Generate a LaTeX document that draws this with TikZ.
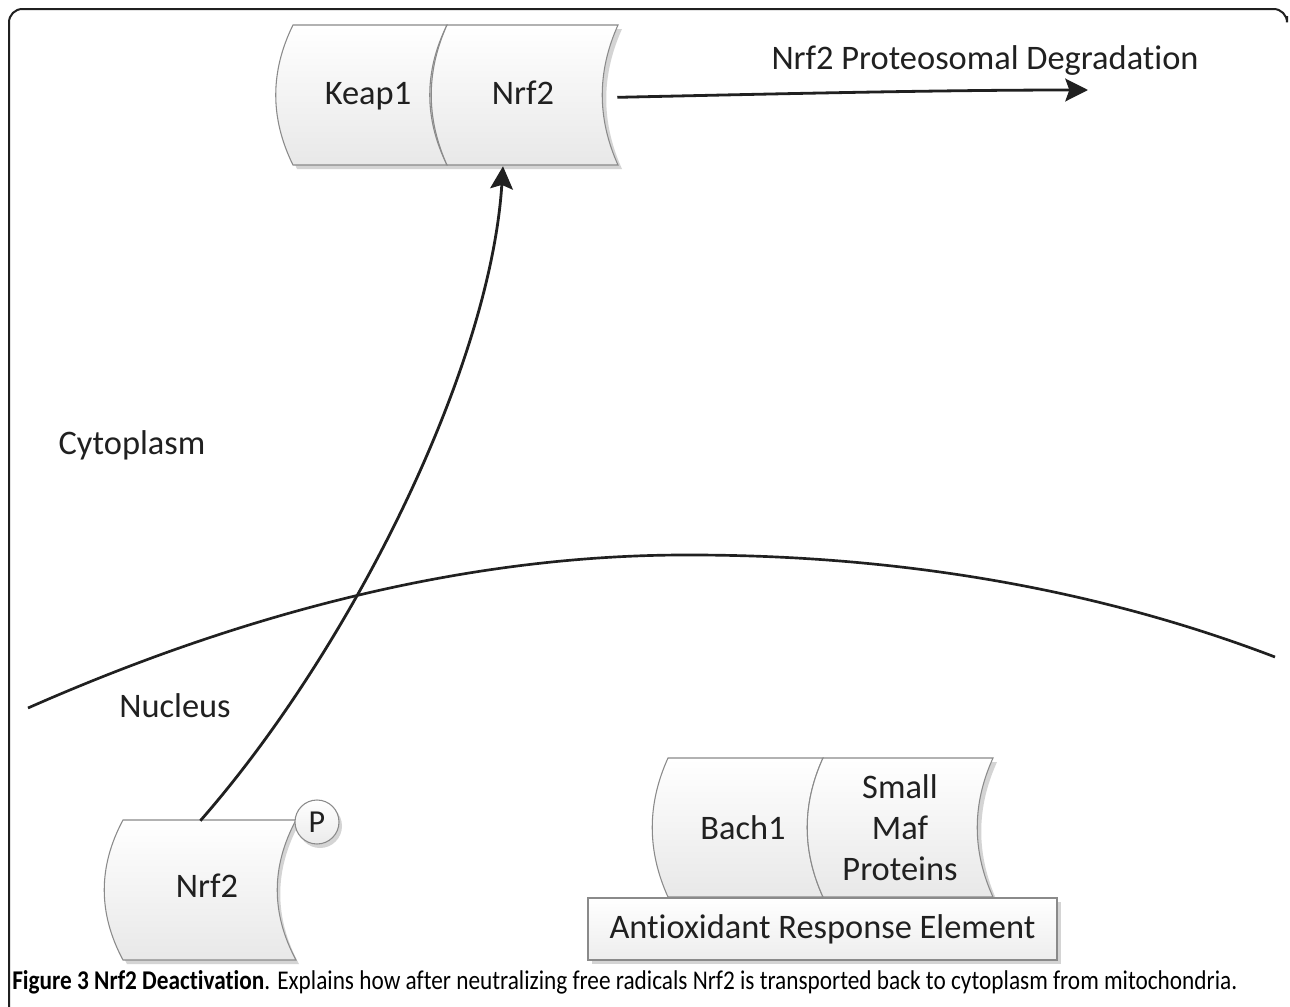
\documentclass[tikz,border=0pt]{standalone}
\usepackage{fontspec}
\setmainfont[Ligatures=NoCommon]{Carlito}
\newfontfamily\capfont[FakeStretch=0.86,Ligatures=NoCommon]{Carlito}
\usetikzlibrary{arrows.meta,calc}

% one "tape" cell: left and right sides are arcs bulging to the left
% #1 left x, #2 right x, #3 top y, #4 bottom y, #5 control offset
\newcommand\tapecell[5]{%
  (#1,#3) -- (#2,#3)
  .. controls ({#2-#5},{#3+(#4-#3)/3}) and ({#2-#5},{#4-(#4-#3)/3}) .. (#2,#4)
  -- (#1,#4)
  .. controls ({#1-#5},{#4-(#4-#3)/3}) and ({#1-#5},{#3+(#4-#3)/3}) .. (#1,#3)
  -- cycle}

\definecolor{inkc}{HTML}{202020}
\definecolor{edgec}{HTML}{8A8A8A}
\definecolor{shadowc}{HTML}{D4D4D4}

\tikzset{
  cellfill/.style={top color=white, bottom color=black!9, draw=edgec, line width=0.8pt},
  cellshadow/.style={fill=shadowc, draw=none},
  lbl/.style={font=\fontsize{25.8}{30.75}\selectfont, text=inkc, inner sep=0pt},
  tag/.style={lbl, anchor=center, minimum height=105pt, text height=17pt, text depth=5pt},
  link/.style={draw=inkc, line width=2.1pt,
    -{Stealth[length=17pt,width=17pt,inset=3pt]}},
  membrane/.style={draw=inkc, line width=2pt},
}

\begin{document}
\begin{tikzpicture}[x=0.75pt, y=-0.75pt]
\useasboundingbox (0,0) rectangle (1290,1007);
\fill[white] (0,0) rectangle (1290,1007);

% outer frame (open at the bottom and right)
\draw[inkc, line width=1.5pt, rounded corners=10pt]
  (9,1010) -- (9,9) -- (1287,9) -- (1287,16);

% ---- Keap1 / Nrf2 complex in the cytoplasm ----
\fill[cellshadow] \tapecell{297}{622}{29}{169}{21};
\path[cellfill] \tapecell{293}{447}{25}{165}{23};
\path[cellfill] \tapecell{447}{618}{25}{165}{21};
\node[tag] (keap) at (368,96) {Keap1};
\node[tag, minimum width=141pt] (nrft) at (523,96) {Nrf2};

% degradation label and its arrow
\node[lbl] (degr) at (985,61) {Nrf2 Proteosomal Degradation};
\coordinate (degrEnd) at (1088,90);
\draw[link] ([yshift=-1pt]nrft.east) .. controls +(180,-4) and +(-140,0) .. (degrEnd);

% compartment labels
\node[lbl] (cyto) at (132,445) {Cytoplasm};
\node[lbl] (nucl) at (175,706) {Nucleus};

% nuclear envelope
\draw[membrane] (28,708) .. controls (250,610) and (470,556) .. (680,555)
  .. controls (900,554) and (1100,590) .. (1275,657);

% ---- phosphorylated Nrf2 in the nucleus ----
\fill[cellshadow] \tapecell{127}{299}{824}{964}{25};
\path[cellfill] \tapecell{123}{296}{820}{960}{25};
\node[tag, minimum height=102pt] (nrfb) at (207,889) {Nrf2};

\fill[shadowc] (320,826) circle[radius=22];
\node[circle, draw=edgec, line width=0.8pt, top color=white, bottom color=black!8,
      minimum size=33pt, inner sep=0pt,
      font=\fontsize{24}{26}\selectfont, text=inkc] (phos) at (317,822) {P};

% export of Nrf2 back to the cytoplasm
\draw[link] ([xshift=-5pt]nrfb.north) .. controls (350,650) and (490,370) .. ([xshift=-15pt]nrft.south);

% ---- Bach1 / small Maf proteins on the ARE ----
\fill[cellshadow] \tapecell{672}{997}{762}{901}{21};
\path[cellfill] \tapecell{668}{823}{758}{897}{21};
\path[cellfill] \tapecell{823}{993}{758}{897}{21};
\node[lbl] (bach) at (743,828) {Bach1};
\node[lbl, align=center] (maf) at (900,828) {Small\\Maf\\Proteins};

\fill[shadowc] (592,902) rectangle (1061,964);
\node[draw=edgec, line width=0.8pt, top color=white, bottom color=black!7,
      minimum width=351.75pt, minimum height=46.5pt, inner sep=0pt,
      font=\fontsize{25.8}{30.75}\selectfont, text=inkc] (are) at (822.5,929) {Antioxidant Response Element};

% caption
\node[anchor=west, inner sep=0pt, text=black, font=\capfont\fontsize{20.3}{23}\selectfont]
  (caption) at (12,982)
  {\textbf{Figure 3 Nrf2 Deactivation}. Explains how after neutralizing free radicals Nrf2 is transported back to cytoplasm from mitochondria.};
\end{tikzpicture}
\end{document}
